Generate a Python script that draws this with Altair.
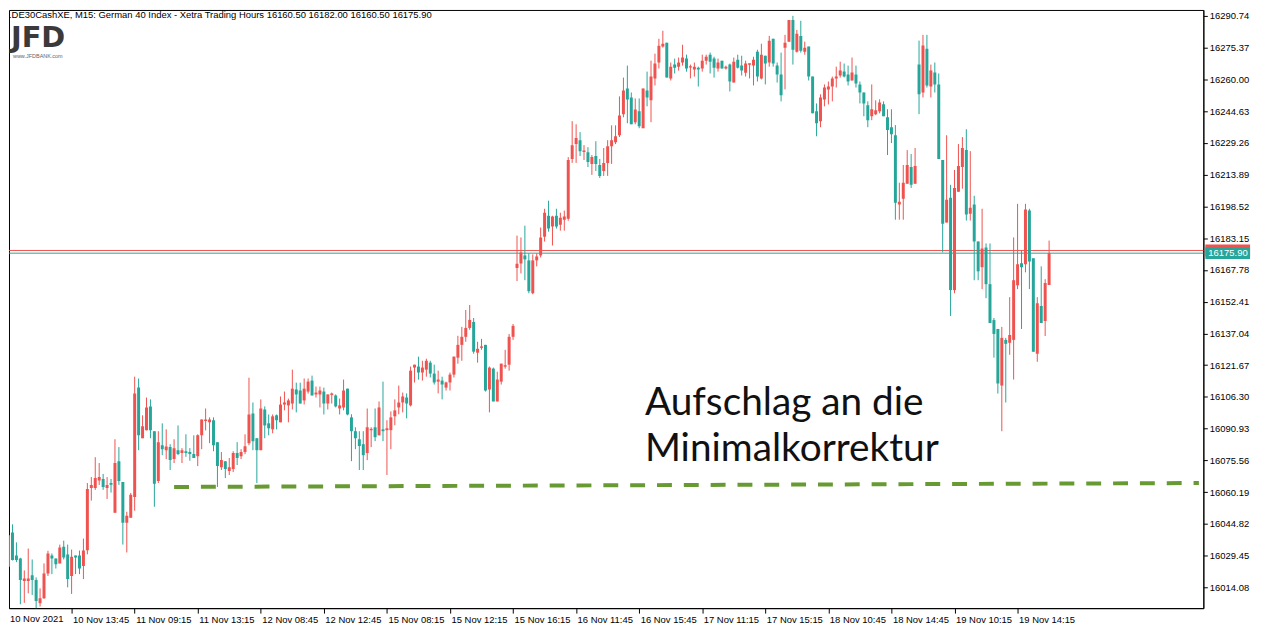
import altair as alt
import pandas as pd

# ---- OHLC data (M15 bars) ----
opens = [16024.1,16040.6,16029.5,16028.1,16017.2,16017.2,16019.9,16017.6,16006.4,16008.8,
         16020.8,16029.5,16028.1,16025.7,16033.7,16030.0,16019.6,16029.5,16029.5,16024.4,
         16032.1,16062.2,16062.2,16065.8,16066.6,16062.2,16064.6,16050.2,16075.2,16065.1,
         16045.4,16047.8,16057.9,16110.8,16086.3,16090.1,16101.7,16089.7,16065.6,16082.9,
         16080.5,16082.0,16076.2,16080.5,16079.1,16080.0,16079.6,16078.6,16077.6,16087.7,
         16094.6,16094.0,16095.0,16084.4,16072.3,16075.2,16070.4,16071.4,16079.1,16077.6,
         16079.6,16083.9,16098.3,16086.3,16080.5,16100.2,16093.5,16090.6,16097.4,16094.0,
         16102.6,16102.2,16103.1,16109.9,16109.4,16104.6,16108.9,16114.2,16107.5,16107.5,
         16108.9,16103.1,16107.6,16107.0,16100.7,16101.2,16110.3,16096.4,16089.7,16085.8,
         16083.4,16079.1,16090.5,16091.6,16087.7,16090.6,16090.2,16090.2,16096.9,16101.2,
         16103.6,16106.0,16102.2,16120.5,16121.0,16118.1,16119.5,16122.9,16117.6,16113.7,
         16114.2,16110.8,16113.3,16117.1,16125.3,16131.5,16135.4,16139.7,16142.6,16127.7,
         16130.4,16131.5,16109.9,16120.0,16104.1,16113.7,16121.3,16121.9,16135.4,16168.7,
         16170.9,16174.8,16172.4,16156.5,16172.4,16174.8,16183.9,16194.0,16188.8,16194.0,
         16189.7,16192.1,16192.6,16221.5,16228.7,16230.6,16225.2,16224.8,16219.1,16222.9,
         16218.6,16215.7,16219.6,16227.7,16229.6,16233.0,16243.1,16255.6,16251.3,16239.3,
         16244.6,16236.4,16254.7,16249.9,16260.5,16268.2,16275.9,16277.8,16260.5,16267.2,
         16266.2,16268.2,16270.1,16266.1,16264.8,16265.7,16265.3,16269.1,16272.0,16270.1,
         16265.3,16269.1,16265.3,16267.2,16258.5,16269.6,16266.7,16263.3,16267.5,16266.7,
         16273.4,16260.5,16271.5,16268.2,16279.7,16266.7,16262.4,16275.4,16278.3,16288.8,
         16273.4,16281.1,16273.4,16275.9,16261.4,16244.6,16239.8,16250.3,16255.2,16256.6,
         16260.5,16261.9,16263.8,16262.4,16259.5,16262.4,16257.6,16253.7,16247.5,16242.2,
         16243.2,16244.6,16248.0,16241.7,16236.9,16233.0,16199.4,16202.3,16209.5,16217.6,
         16209.5,16267.2,16253.7,16274.9,16256.6,16263.4,16257.6,16221.0,16190.7,16202.7,
         16158.0,16205.6,16217.6,16225.8,16195.0,16199.4,16181.6,16169.1,16178.7,16160.9,
         16143.5,16139.2,16111.8,16133.9,16132.5,16133.9,16160.4,16171.0,16170.5,16196.5,
         16173.4,16127.2,16150.3,16143.1,16160.5]
highs = [16040.9,16044.6,16035.9,16028.4,16022.3,16032.9,16027.6,16018.9,16013.6,16025.7,
         16031.8,16030.5,16028.1,16034.8,16036.7,16034.8,16032.4,16029.5,16031.9,16037.7,
         16064.6,16067.5,16077.1,16074.3,16069.0,16067.5,16066.6,16085.8,16082.0,16065.1,
         16050.7,16059.8,16116.1,16115.2,16097.4,16106.0,16105.1,16089.7,16089.7,16093.5,
         16090.6,16083.4,16085.8,16092.5,16081.5,16088.2,16081.5,16087.7,16088.2,16095.4,
         16100.7,16096.4,16096.4,16084.4,16079.6,16075.2,16076.7,16080.0,16084.4,16081.0,
         16088.2,16115.6,16103.6,16086.3,16105.1,16101.7,16097.8,16097.8,16097.8,16106.5,
         16108.9,16105.5,16119.5,16113.2,16113.2,16115.2,16115.2,16116.6,16111.3,16111.3,
         16110.8,16107.5,16108.4,16107.5,16105.5,16114.7,16110.3,16097.9,16091.6,16089.7,
         16089.7,16100.7,16091.6,16100.7,16104.1,16113.7,16095.0,16099.3,16105.1,16111.8,
         16108.4,16108.0,16121.0,16121.9,16125.8,16123.8,16124.8,16123.8,16121.9,16119.0,
         16116.1,16113.7,16118.1,16125.8,16135.9,16140.2,16148.4,16150.8,16144.5,16133.0,
         16134.4,16131.5,16121.0,16120.5,16118.5,16122.4,16129.1,16136.8,16141.6,16184.4,
         16183.5,16189.2,16175.8,16175.3,16175.8,16188.3,16197.4,16201.3,16194.0,16197.4,
         16195.5,16196.5,16222.4,16239.8,16238.3,16234.5,16228.2,16227.2,16223.4,16230.1,
         16221.5,16226.8,16230.6,16237.8,16237.8,16251.8,16260.9,16266.7,16253.7,16250.8,
         16250.8,16255.6,16263.8,16269.1,16272.5,16279.7,16283.6,16277.8,16268.2,16270.1,
         16270.6,16276.8,16272.0,16267.2,16268.2,16266.2,16272.0,16272.0,16273.0,16271.0,
         16270.1,16269.1,16266.7,16267.7,16270.6,16272.0,16271.5,16269.1,16267.7,16271.0,
         16274.4,16277.3,16271.5,16281.1,16279.7,16268.2,16273.0,16281.6,16288.8,16290.8,
         16284.0,16288.4,16278.3,16275.9,16261.4,16248.4,16252.8,16257.6,16259.0,16261.4,
         16266.2,16268.6,16267.7,16266.7,16270.6,16266.7,16259.0,16253.7,16249.4,16257.6,
         16249.9,16250.4,16249.4,16245.6,16245.6,16237.9,16210.0,16218.6,16225.8,16223.9,
         16226.8,16278.8,16281.6,16281.6,16267.2,16268.2,16262.9,16221.0,16233.0,16209.0,
         16216.2,16228.7,16232.1,16235.9,16225.3,16203.7,16181.6,16197.4,16180.6,16180.6,
         16144.5,16139.2,16140.2,16134.9,16154.6,16183.5,16199.8,16177.2,16199.8,16197.4,
         16173.4,16154.6,16169.5,16163.3,16182.0]
lows = [16023.2,16027.1,16026.3,16005.9,16006.6,16011.2,16010.4,16001.3,16004.8,16008.5,
        16019.6,16020.5,16023.2,16025.7,16027.6,16014.1,16010.9,16020.5,16020.5,16018.1,
        16030.1,16056.1,16061.3,16063.7,16061.3,16056.9,16060.0,16050.2,16063.7,16034.8,
        16031.0,16047.8,16051.2,16080.5,16086.3,16090.1,16086.3,16053.1,16064.6,16078.1,
        16076.2,16070.9,16074.3,16078.1,16074.3,16077.3,16075.4,16076.7,16072.8,16081.0,
        16090.1,16083.9,16080.0,16062.7,16070.9,16067.0,16068.5,16069.9,16073.3,16076.2,
        16078.6,16082.9,16080.5,16064.6,16080.5,16086.3,16087.7,16088.7,16090.6,16094.0,
        16099.8,16094.0,16100.2,16098.8,16103.1,16102.6,16107.9,16107.0,16106.0,16101.2,
        16097.8,16100.2,16103.1,16101.2,16097.8,16099.8,16097.4,16075.2,16081.0,16070.9,
        16070.9,16075.7,16082.0,16084.9,16087.7,16084.9,16068.5,16081.0,16092.6,16097.9,
        16098.8,16095.9,16101.7,16113.3,16114.7,16114.2,16116.1,16115.7,16112.3,16108.0,
        16105.1,16109.4,16109.4,16115.7,16122.4,16123.8,16133.0,16138.8,16127.2,16122.9,
        16129.1,16108.9,16098.8,16104.1,16104.1,16112.3,16120.0,16119.0,16133.9,16162.4,
        16166.1,16162.8,16156.5,16156.0,16169.5,16173.8,16181.5,16186.3,16179.6,16187.8,
        16186.8,16186.8,16191.6,16219.6,16219.6,16222.9,16221.0,16217.6,16213.8,16215.7,
        16212.3,16213.3,16213.3,16219.1,16228.7,16232.1,16241.7,16238.8,16238.3,16238.3,
        16236.4,16236.4,16247.0,16239.3,16257.1,16265.3,16275.4,16260.9,16259.5,16262.9,
        16264.3,16266.7,16263.8,16260.5,16261.4,16256.6,16263.8,16267.2,16262.9,16260.9,
        16263.8,16265.3,16264.8,16254.2,16258.5,16265.3,16261.9,16261.4,16260.5,16257.1,
        16259.0,16260.0,16257.6,16266.2,16266.2,16258.5,16249.4,16255.2,16278.3,16267.2,
        16273.0,16273.0,16272.0,16259.5,16243.6,16232.5,16236.9,16247.0,16247.9,16249.4,
        16256.1,16260.9,16261.0,16257.1,16259.5,16256.1,16248.4,16242.2,16236.9,16240.3,
        16242.7,16243.6,16242.2,16223.4,16229.2,16192.1,16192.1,16192.1,16209.5,16207.5,
        16209.5,16243.2,16251.3,16256.1,16251.3,16253.7,16221.5,16176.3,16190.7,16145.5,
        16156.5,16205.6,16207.1,16191.7,16191.7,16162.8,16162.8,16158.5,16154.1,16142.1,
        16125.3,16107.9,16089.7,16103.6,16126.7,16114.7,16158.5,16139.2,16166.6,16158.5,
        16128.2,16123.3,16142.1,16135.8,16160.5]
closes = [16039.3,16027.3,16027.3,16017.6,16018.4,16018.4,16017.6,16007.5,16008.8,16020.8,
          16030.5,16028.1,16025.3,16033.4,16028.5,16018.1,16028.9,16028.5,16023.2,16031.9,
          16061.7,16063.7,16067.0,16067.5,16062.7,16063.7,16063.8,16074.3,16065.6,16045.4,
          16048.8,16058.9,16107.9,16087.7,16092.1,16101.2,16090.1,16064.2,16084.4,16081.0,
          16082.3,16075.7,16081.5,16078.6,16080.5,16079.1,16078.6,16076.7,16087.7,16095.4,
          16095.4,16095.4,16082.9,16072.8,16075.7,16071.4,16072.3,16079.1,16076.7,16079.6,
          16082.4,16097.8,16084.8,16080.5,16100.7,16092.5,16091.1,16096.9,16095.0,16102.6,
          16103.6,16104.6,16110.3,16107.5,16103.1,16110.3,16113.7,16107.0,16108.4,16109.4,
          16103.1,16107.5,16107.6,16101.7,16102.2,16109.4,16097.8,16089.7,16086.3,16082.5,
          16078.1,16091.6,16090.5,16086.8,16101.2,16089.7,16091.1,16096.4,16099.8,16103.6,
          16106.5,16103.1,16119.0,16121.9,16118.1,16120.5,16123.8,16117.6,16113.3,16114.7,
          16112.3,16113.3,16117.1,16125.8,16131.5,16135.4,16139.7,16143.6,16128.2,16129.6,
          16130.4,16109.4,16120.5,16104.1,16114.7,16122.4,16121.3,16135.4,16140.7,16170.8,
          16176.2,16172.9,16157.5,16172.4,16174.3,16183.5,16195.5,16187.8,16193.6,16188.8,
          16193.1,16193.6,16221.0,16228.2,16231.6,16225.3,16225.2,16220.0,16222.4,16219.1,
          16213.3,16219.6,16227.7,16230.6,16232.5,16242.6,16254.7,16250.3,16238.3,16245.5,
          16237.4,16255.6,16251.3,16261.4,16267.7,16276.3,16277.3,16260.9,16266.2,16265.7,
          16268.2,16270.6,16265.3,16266.1,16266.2,16264.8,16269.1,16271.0,16268.6,16265.7,
          16268.2,16265.3,16266.2,16259.0,16268.6,16265.7,16264.3,16267.7,16267.5,16269.6,
          16261.4,16272.0,16267.7,16278.7,16267.7,16262.4,16252.3,16277.8,16288.8,16274.4,
          16282.1,16273.9,16275.4,16261.4,16243.6,16238.8,16251.3,16256.1,16256.6,16260.5,
          16261.4,16264.3,16261.4,16259.0,16263.4,16258.1,16253.7,16248.4,16240.3,16245.6,
          16245.1,16248.9,16242.2,16235.5,16233.5,16200.3,16200.8,16210.0,16218.6,16209.0,
          16218.1,16252.8,16276.4,16257.1,16264.3,16257.6,16221.5,16190.2,16201.8,16158.0,
          16207.5,16218.1,16226.8,16194.6,16197.9,16181.6,16167.1,16178.2,16160.9,16142.1,
          16136.8,16112.8,16134.9,16132.0,16136.3,16162.8,16170.5,16169.1,16197.0,16171.9,
          16128.2,16151.7,16142.1,16161.4,16175.9]

# ---- axis texts ----
y_ticks = [16014.08, 16029.45, 16044.82, 16060.19, 16075.56, 16090.93, 16106.30,
           16121.67, 16137.04, 16152.41, 16167.78, 16183.15, 16198.52, 16213.89,
           16229.26, 16244.63, 16260.00, 16275.37, 16290.74]
x_tick_bars = [16, 32, 48, 64, 80, 96, 112, 128, 144, 160, 176, 192, 208, 224, 240, 256]
x_tick_labels = ["10 Nov 13:45", "11 Nov 09:15", "11 Nov 13:15", "12 Nov 08:45",
                 "12 Nov 12:45", "15 Nov 08:15", "15 Nov 12:15", "15 Nov 16:15",
                 "16 Nov 11:45", "16 Nov 15:45", "17 Nov 11:15", "17 Nov 15:15",
                 "18 Nov 10:45", "18 Nov 14:45", "19 Nov 10:15", "19 Nov 14:15"]
first_label = "10 Nov 2021"
header = ".DE30CashXE, M15:  German 40 Index  - Xetra Trading Hours  16160.50 16182.00 16160.50 16175.90"
bid_price = 16175.90
ask_price = 16177.20
trend_bars = [42, 302]
trend_prices = [16062.7, 16064.6]
note_line1 = "Aufschlag an die"
note_line2 = "Minimalkorrektur"

W, H = 1202, 602
FONT = "Liberation Sans"
UP, DOWN, DOJI = "#26a69a", "#ef5350", "#4cbb7f"

rows = []
for i, (o, h, l, c) in enumerate(zip(opens, highs, lows, closes)):
    if abs(c - o) < 0.5:
        d, lo, hi = "doji", o - 0.35, o + 0.35
    elif c > o:
        d, lo, hi = "up", o, c
    else:
        d, lo, hi = "down", c, o
    rows.append(dict(k=i, o=o, h=h, l=l, c=c, lo=lo, hi=hi, d=d))
df = pd.DataFrame(rows)

xs = alt.Scale(domain=[1.375, 1.375 + W / 4], nice=False, zero=False)
ys = alt.Scale(domain=[16004.03, 16293.65], nice=False, zero=False)
cs = alt.Scale(domain=["up", "down", "doji"], range=[UP, DOWN, DOJI])

label_expr = "[" + ",".join("'%s'" % s for s in x_tick_labels) + "][round(datum.value/16) - 1]"
x_axis = alt.Axis(values=x_tick_bars, labelExpr=label_expr, title=None, grid=False,
                  orient="bottom", labelAlign="left", labelBaseline="top", labelOffset=1,
                  tickSize=5, labelPadding=1, labelFont=FONT, labelFontSize=9.5,
                  labelColor="black", tickColor="black", domainColor="black",
                  labelOverlap=False, labelFlush=False, labelBound=False)
y_axis = alt.Axis(values=y_ticks, format=".2f", title=None, grid=False, orient="right",
                  tickSize=4, labelPadding=2, labelFont=FONT, labelFontSize=9.5,
                  labelColor="black", tickColor="black", domainColor="black",
                  labelOverlap=False, labelFlush=False, labelBound=False)

X = alt.X("k:Q", scale=xs, axis=x_axis)

wicks = alt.Chart(df).mark_rule(strokeWidth=1, clip=True).encode(
    x=X, y=alt.Y("l:Q", scale=ys, axis=y_axis), y2="h:Q",
    color=alt.Color("d:N", scale=cs, legend=None))
bodies = alt.Chart(df).mark_bar(size=3, clip=True).encode(
    x=X, y=alt.Y("lo:Q", scale=ys, axis=y_axis), y2="hi:Q",
    color=alt.Color("d:N", scale=cs, legend=None))

lines_df = pd.DataFrame({"p": [ask_price, bid_price], "kind": ["ask", "bid"]})
price_lines = alt.Chart(lines_df).mark_rule(strokeWidth=1).encode(
    y=alt.Y("p:Q", scale=ys, axis=y_axis),
    color=alt.Color("kind:N", scale=alt.Scale(domain=["ask", "bid"], range=[DOWN, UP]), legend=None))

trend_df = pd.DataFrame({"k": trend_bars, "p": trend_prices})
trend = alt.Chart(trend_df).mark_line(color="#679a33", strokeWidth=4, strokeDash=[15, 12],
                                      clip=True).encode(
    x=X, y=alt.Y("p:Q", scale=ys, axis=y_axis))

# price label on the right axis
ask_box = alt.Chart(pd.DataFrame({"p": [ask_price]})).mark_rule(
    strokeWidth=12, color=DOWN, strokeCap="butt").encode(
    y=alt.Y("p:Q", scale=ys, axis=y_axis), x=alt.value(W + 2), x2=alt.value(W + 47))
bid_box = alt.Chart(pd.DataFrame({"p": [bid_price]})).mark_rule(
    strokeWidth=12, color=UP, strokeCap="butt").encode(
    y=alt.Y("p:Q", scale=ys, axis=y_axis), x=alt.value(W + 2), x2=alt.value(W + 47))
bid_text = alt.Chart(pd.DataFrame({"p": [bid_price], "t": ["%.2f" % bid_price]})).mark_text(
    align="left", baseline="middle", color="white", font=FONT, fontSize=9.5).encode(
    y=alt.Y("p:Q", scale=ys, axis=y_axis), x=alt.value(W + 5), text="t:N")

head = alt.Chart(pd.DataFrame({"t": [header]})).mark_text(
    align="left", baseline="middle", font=FONT, fontSize=9.5, color="black").encode(
    x=alt.value(0), y=alt.value(5), text="t:N")
logo = alt.Chart(pd.DataFrame({"t": ["JFD"]})).mark_text(
    align="left", baseline="alphabetic", font="DejaVu Sans", fontWeight="bold",
    fontSize=29, color="#3a3a3a").encode(
    x=alt.value(2), y=alt.value(37), text="t:N")
logo_url = alt.Chart(pd.DataFrame({"t": ["www.JFDBANK.com"]})).mark_text(
    align="left", baseline="top", font=FONT, fontSize=5.5, color="#666666").encode(
    x=alt.value(4), y=alt.value(44), text="t:N")

note1 = alt.Chart(pd.DataFrame({"t": [note_line1]})).mark_text(
    align="left", baseline="alphabetic", font="Lato", fontSize=39, color="#111111").encode(
    x=alt.value(640), y=alt.value(408), text="t:N")
note2 = alt.Chart(pd.DataFrame({"t": [note_line2]})).mark_text(
    align="left", baseline="alphabetic", font="Lato", fontSize=39, color="#111111").encode(
    x=alt.value(640), y=alt.value(454), text="t:N")

first = alt.Chart(pd.DataFrame({"t": [first_label]})).mark_text(
    align="left", baseline="top", font=FONT, fontSize=9.5, color="black").encode(
    x=alt.value(1), y=alt.value(H + 6), text="t:N")

chart = alt.layer(trend, price_lines, wicks, bodies, ask_box, bid_box, bid_text,
                  head, logo, logo_url, note1, note2, first).properties(
    width=W, height=H, padding={"left": 0, "top": 0, "right": 4, "bottom": 0},
    background="white"
).configure_view(stroke="black", strokeWidth=1).resolve_scale(y="shared")

chart.save("out.html", embed_options={"renderer": "svg", "actions": False})
